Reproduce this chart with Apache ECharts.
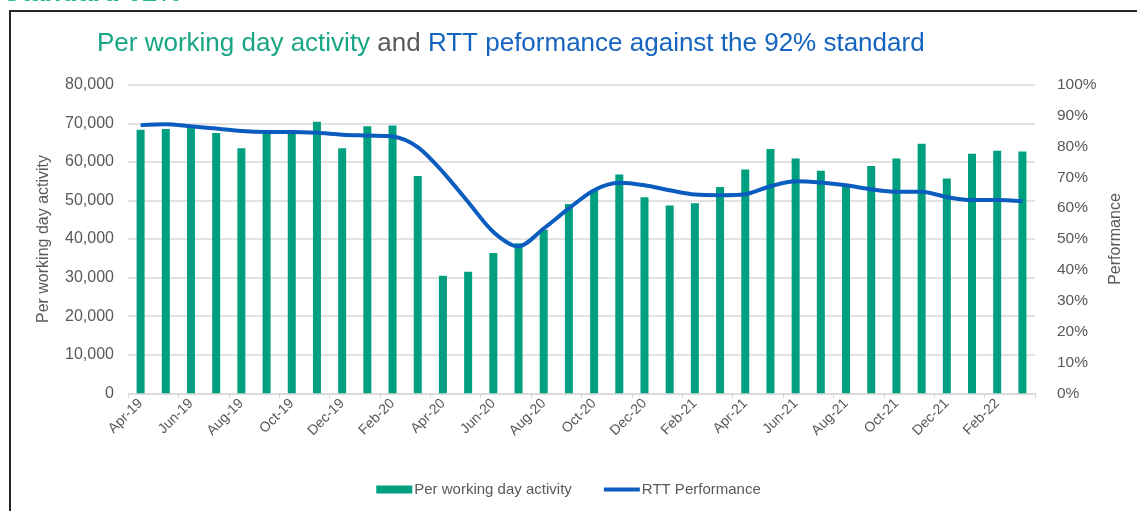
<!DOCTYPE html>
<html>
<head>
<meta charset="utf-8">
<style>
  html, body { margin: 0; padding: 0; background: #fff; }
  #main { width: 1137px; height: 511px; }
</style>
<script src="https://cdn.jsdelivr.net/npm/echarts@6/dist/echarts.min.js"></script>
</head>
<body>
<div id="main"></div>
<script>
var months = ['Apr-19','May-19','Jun-19','Jul-19','Aug-19','Sep-19','Oct-19','Nov-19','Dec-19','Jan-20','Feb-20','Mar-20',
              'Apr-20','May-20','Jun-20','Jul-20','Aug-20','Sep-20','Oct-20','Nov-20','Dec-20','Jan-21','Feb-21','Mar-21',
              'Apr-21','May-21','Jun-21','Jul-21','Aug-21','Sep-21','Oct-21','Nov-21','Dec-21','Jan-22','Feb-22','Mar-22'];

// per working day activity (bars, left axis)
var activity = [68300, 68500, 68800, 67500, 63500, 67700, 67800, 70400, 63500, 69200, 69400, 56300,
                30500, 31500, 36400, 38900, 42400, 49100, 52700, 56700, 50800, 48700, 49300, 53500,
                58000, 63300, 60900, 57700, 54000, 58900, 60900, 64700, 55700, 62100, 62900, 62700];

// RTT performance (line, right axis, %)
var rtt = [86.9, 87.2, 86.5, 85.8, 85.0, 84.7, 84.7, 84.4, 83.8, 83.5, 83.2, 79.8,
           71.7, 62.0, 52.3, 47.6, 53.4, 59.9, 65.8, 68.2, 67.4, 65.8, 64.4, 64.2,
           64.5, 67.1, 68.7, 68.3, 67.4, 66.1, 65.3, 65.3, 63.6, 62.6, 62.6, 62.2];

var green = '#009f7f';
var blue = '#0a5cbf';
var grey = '#595959';
var font = 'Liberation Sans, Arial, sans-serif';

var chart = echarts.init(document.getElementById('main'));
chart.setOption({
  animation: false,
  textStyle: { fontFamily: font },
  graphic: [
    {
      type: 'text', left: 4, top: -20, silent: true,
      style: { text: 'Standard 92%', fill: '#1db890', font: 'italic bold 27px ' + font }
    },
    {
      type: 'rect', silent: true,
      shape: { x: 10, y: 11, width: 1140, height: 520 },
      style: { fill: 'none', stroke: '#262626', lineWidth: 2 }
    },
    {
      type: 'text', left: 97, top: 31, silent: true,
      style: {
        text: '{g|Per working day activity}{k| and }{b|RTT peformance against the 92% standard}',
        rich: {
          g: { fill: '#1aa585', fontSize: 26, fontFamily: font },
          k: { fill: grey, fontSize: 26, fontFamily: font },
          b: { fill: '#1464c0', fontSize: 26, fontFamily: font }
        }
      }
    }
  ],
  legend: {
    bottom: 9,
    left: 'center',
    itemGap: 32,
    itemWidth: 36,
    itemHeight: 8,
    textStyle: { color: grey, fontSize: 15, padding: [0, 0, 0, -3] },
    data: [
      { name: 'Per working day activity', icon: 'rect' },
      { name: 'RTT Performance', icon: 'path://M0,3 L36,3 L36,7 L0,7 Z' }
    ]
  },
  grid: { left: 128, right: 102, top: 84.7, bottom: 117.7 },
  xAxis: {
    type: 'category',
    data: months,
    boundaryGap: true,
    axisLine: { lineStyle: { color: '#d9d9d9', width: 1.5 } },
    axisTick: { show: true, interval: 1, length: 5, lineStyle: { color: '#d9d9d9' } },
    axisLabel: { interval: 1, rotate: 45, color: grey, fontSize: 14, margin: 8 }
  },
  yAxis: [
    {
      type: 'value', min: 0, max: 80000, interval: 10000,
      name: 'Per working day activity', nameLocation: 'middle', nameGap: 76,
      nameTextStyle: { color: grey, fontSize: 16 },
      axisLabel: {
        color: grey, fontSize: 16, margin: 14,
        formatter: function (v) { return v.toLocaleString('en-GB'); }
      },
      splitLine: { lineStyle: { color: '#d9d9d9', width: 1.5 } }
    },
    {
      type: 'value', min: 0, max: 100, interval: 10,
      name: 'Performance', nameLocation: 'middle', nameGap: 68,
      nameRotate: 90,
      nameTextStyle: { color: grey, fontSize: 16 },
      axisLabel: { color: grey, fontSize: 15.5, margin: 22, formatter: '{value}%' },
      splitLine: { show: false }
    }
  ],
  series: [
    {
      name: 'Per working day activity',
      type: 'bar',
      data: activity,
      barWidth: 8,
      itemStyle: { color: green },
      yAxisIndex: 0
    },
    {
      name: 'RTT Performance',
      type: 'line',
      data: rtt,
      yAxisIndex: 1,
      smooth: 0.3,
      showSymbol: false,
      symbol: 'none',
      lineStyle: { color: blue, width: 4 },
      itemStyle: { color: blue }
    }
  ]
});
</script>
</body>
</html>
